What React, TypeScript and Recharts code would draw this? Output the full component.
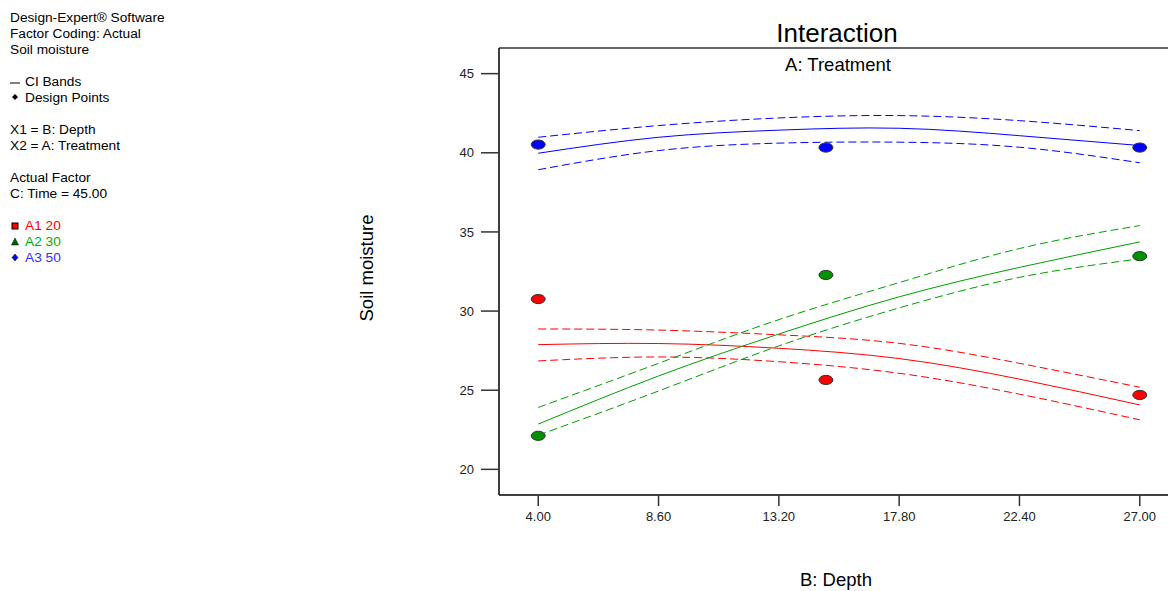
import React from "react";
import { ComposedChart, Line, ReferenceLine, Scatter, XAxis, YAxis } from "recharts";

// B: Depth positions where the fitted curves were read
const depth = [4, 8.6, 13.2, 17.8, 22.4, 27];
const depthTicks = [4, 8.6, 13.2, 17.8, 22.4, 27];
const moistureTicks = [20, 25, 30, 35, 40, 45];
const pointDepth = [4, 15, 27];

// A1 20 (red)
const a1Upper = [28.87, 28.8, 28.5, 27.96, 26.7, 25.19];
const a1Mean = [27.88, 27.95, 27.65, 27.0, 25.7, 24.07];
const a1Lower = [26.85, 27.1, 26.8, 26.07, 24.75, 23.13];
const a1Points = [30.76, 25.65, 24.7];

// A2 30 (green)
const a2Upper = [23.91, 26.7, 29.46, 31.8, 33.95, 35.4];
const a2Mean = [22.86, 25.9, 28.55, 30.9, 32.76, 34.37];
const a2Lower = [22.16, 24.95, 27.8, 30.2, 32.13, 33.3];
const a2Points = [22.12, 32.28, 33.47];

// A3 50 (blue)
const a3Upper = [40.98, 41.72, 42.2, 42.35, 42.03, 41.4];
const a3Mean = [39.97, 40.98, 41.43, 41.55, 41.08, 40.46];
const a3Lower = [38.93, 40.14, 40.61, 40.67, 40.35, 39.37];
const a3Points = [40.52, 40.33, 40.33];

const RED = "#ff0000";
const GREEN = "#00a000";
const GREEN_PT = "#009000";
const BLUE = "#0000ff";
const FONT = "'Liberation Sans', Arial, sans-serif";
const Y_MAX = 46.62;

const curve = (ys: number[]) => depth.map((x, i) => ({ x, y: ys[i] }));
const pts = (ys: number[]) => pointDepth.map((x, i) => ({ x, y: ys[i] }));

const dot = (fill: string) => (p: any) =>
  <ellipse cx={p.cx} cy={p.cy} rx={7} ry={4.6} fill={fill} stroke="#333" strokeWidth={1} />;

const series = [
  { color: RED, pt: RED, upper: a1Upper, mean: a1Mean, lower: a1Lower, points: a1Points },
  { color: GREEN, pt: GREEN_PT, upper: a2Upper, mean: a2Mean, lower: a2Lower, points: a2Points },
  { color: BLUE, pt: BLUE, upper: a3Upper, mean: a3Mean, lower: a3Lower, points: a3Points },
];

const legendLines: { y: number; text: string; color?: string; icon?: React.ReactNode }[] = [
  { y: 18, text: "Design-Expert® Software" },
  { y: 34, text: "Factor Coding: Actual" },
  { y: 50, text: "Soil moisture" },
  { y: 82, text: "CI Bands", icon: <line x1={0} y1={10} x2={10} y2={10} stroke="#000" /> },
  { y: 98, text: "Design Points", icon: <polygon points="5,5 8,8 5,11 2,8" fill="#000" /> },
  { y: 130, text: "X1 = B: Depth" },
  { y: 146, text: "X2 = A: Treatment" },
  { y: 178, text: "Actual Factor" },
  { y: 194, text: "C: Time = 45.00" },
  { y: 226, text: "A1 20", color: RED, icon: <rect x={2} y={6} width={6} height={6} fill={RED} stroke="#000" /> },
  { y: 242, text: "A2 30", color: "#00b000", icon: <polygon points="5,5 8.5,12 1.5,12" fill="#006000" stroke="#000" strokeWidth={0.5} /> },
  { y: 258, text: "A3 50", color: "#3030ff", icon: <polygon points="5,5 8,8.5 5,12 2,8.5" fill={BLUE} stroke="#000" strokeWidth={0.5} /> },
];

const centered = (x: number, y: number, size: number, extra: React.CSSProperties = {}): React.CSSProperties => ({
  position: "absolute",
  left: x,
  top: y,
  transform: "translate(-50%, -50%)",
  fontSize: size,
  whiteSpace: "nowrap",
  color: "#000",
  ...extra,
});

export default function App() {
  return (
    <div
      style={{
        position: "fixed",
        left: 0,
        top: 0,
        width: 1168,
        height: 591,
        overflow: "hidden",
        background: "#fff",
        fontFamily: FONT,
      }}
    >
      {legendLines.map((l) => (
        <div
          key={l.text}
          style={{
            position: "absolute",
            left: 10,
            top: l.y - 9,
            height: 18,
            lineHeight: "18px",
            fontSize: 13.7,
            color: l.color ?? "#000",
            whiteSpace: "nowrap",
            display: "flex",
            alignItems: "center",
          }}
        >
          {l.icon && (
            <svg width={15} height={18} style={{ flex: "none" }}>
              {l.icon}
            </svg>
          )}
          <span>{l.text}</span>
        </div>
      ))}

      <div style={centered(837, 33, 26)}>Interaction</div>
      <div style={centered(838, 65, 18.5)}>A: Treatment</div>
      <div style={centered(836, 580, 18.5)}>B: Depth</div>
      <div style={centered(367, 268, 18.5, { transform: "translate(-50%, -50%) rotate(-90deg)" })}>
        Soil moisture
      </div>

      <div style={{ position: "absolute", left: 0, top: 0 }}>
        <ComposedChart width={1200} height={591} margin={{ top: 48, right: 21, bottom: 66, left: 439 }}>
          <XAxis
            type="number"
            dataKey="x"
            domain={[2.5, 28.5]}
            ticks={depthTicks}
            tickFormatter={(v: number) => v.toFixed(2)}
            height={30}
            tickSize={11}
            tickMargin={6}
            axisLine={{ stroke: "#000", strokeWidth: 1.5 }}
            tickLine={{ stroke: "#333", strokeWidth: 1.5 }}
            tick={{ fill: "#222", fontSize: 13, fontFamily: FONT }}
            allowDataOverflow
          />
          <YAxis
            type="number"
            dataKey="y"
            domain={[18.38, Y_MAX]}
            ticks={moistureTicks}
            width={60}
            tickSize={18}
            tickMargin={7}
            axisLine={{ stroke: "#000", strokeWidth: 1.5 }}
            tickLine={{ stroke: "#333", strokeWidth: 1.5 }}
            tick={{ fill: "#222", fontSize: 13, fontFamily: FONT }}
            allowDataOverflow
          />
          <ReferenceLine y={Y_MAX} stroke="#333" strokeWidth={1.5} ifOverflow="visible" />
          {series.flatMap((s, i) => [
            <Line
              key={`u${i}`}
              data={curve(s.upper)}
              dataKey="y"
              type="natural"
              stroke={s.color}
              strokeWidth={1}
              strokeDasharray="8 4"
              dot={false}
              activeDot={false}
              isAnimationActive={false}
            />,
            <Line
              key={`m${i}`}
              data={curve(s.mean)}
              dataKey="y"
              type="natural"
              stroke={s.color}
              strokeWidth={1}
              dot={false}
              activeDot={false}
              isAnimationActive={false}
            />,
            <Line
              key={`l${i}`}
              data={curve(s.lower)}
              dataKey="y"
              type="natural"
              stroke={s.color}
              strokeWidth={1}
              strokeDasharray="8 4"
              dot={false}
              activeDot={false}
              isAnimationActive={false}
            />,
            <Scatter
              key={`p${i}`}
              data={pts(s.points)}
              dataKey="y"
              shape={dot(s.pt)}
              isAnimationActive={false}
            />,
          ])}
        </ComposedChart>
      </div>
    </div>
  );
}
